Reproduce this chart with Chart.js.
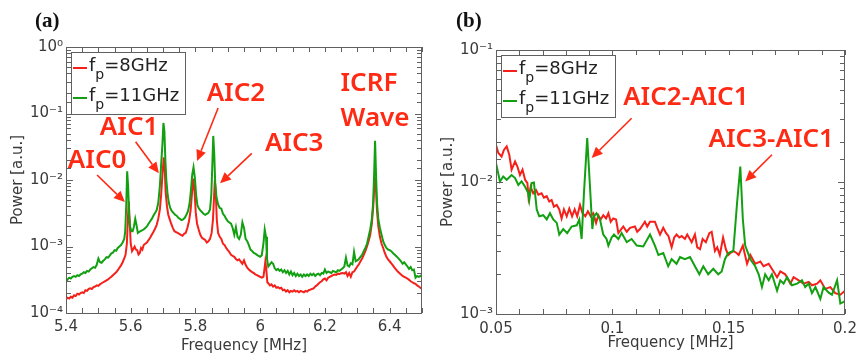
<!DOCTYPE html>
<html><head><meta charset="utf-8">
<script src="https://cdn.jsdelivr.net/npm/chart.js@4/dist/chart.umd.min.js"></script>
<style>
html,body{margin:0;padding:0;background:#fff;}
#wrap{position:relative;width:856px;height:356px;overflow:hidden;}
canvas{position:absolute;top:0;}
#ca{left:0;} #cb{left:428px;}
</style></head><body>
<div id="wrap"><canvas id="ca" width="428" height="356"></canvas><canvas id="cb" width="428" height="356"></canvas></div>
<script>
// ---------- DATA (frequency [MHz], power [a.u.]) ----------
const seriesLabels = ['8GHz', '11GHz'];   // f_p values
const panelLabels = ['(a)', '(b)'];
const axisTitleX = 'Frequency [MHz]';
const axisTitleY = 'Power [a.u.]';
const xTicksLeft = [5.4, 5.6, 5.8, 6, 6.2, 6.4];
const xTicksRight = [0.05, 0.1, 0.15, 0.2];

const leftGreen = [[5.400,2.9e-4],[5.405,3.2e-4],[5.410,3.4e-4],[5.415,3.3e-4],[5.420,3.5e-4],[5.425,3.6e-4],[5.430,3.5e-4],[5.435,3.7e-4],[5.440,3.6e-4],[5.445,3.8e-4],[5.450,3.9e-4],[5.455,4.1e-4],[5.460,4.0e-4],[5.465,4.3e-4],[5.470,4.2e-4],[5.475,4.5e-4],[5.480,4.7e-4],[5.485,4.9e-4],[5.490,4.8e-4],[5.495,5.3e-4],[5.500,6.6e-4],[5.505,5.8e-4],[5.510,5.7e-4],[5.515,6.1e-4],[5.520,6.4e-4],[5.525,6.9e-4],[5.530,6.8e-4],[5.535,7.3e-4],[5.540,7.9e-4],[5.545,8.1e-4],[5.550,8.8e-4],[5.555,8.6e-4],[5.560,9.5e-4],[5.565,1.0e-3],[5.570,1.05e-3],[5.575,1.15e-3],[5.580,1.3e-3],[5.583,1.7e-3],[5.586,4.0e-3],[5.589,1.35e-2],[5.592,8.0e-3],[5.595,3.0e-3],[5.598,2.0e-3],[5.602,1.7e-3],[5.606,1.7e-3],[5.610,2.0e-3],[5.614,2.6e-3],[5.618,2.1e-3],[5.622,1.6e-3],[5.626,1.65e-3],[5.630,1.7e-3],[5.635,1.75e-3],[5.640,1.8e-3],[5.645,1.9e-3],[5.650,2.0e-3],[5.655,2.2e-3],[5.660,2.4e-3],[5.665,2.6e-3],[5.670,2.9e-3],[5.675,3.2e-3],[5.680,3.5e-3],[5.685,4.5e-3],[5.690,8.0e-3],[5.694,1.7e-2],[5.698,3.5e-2],[5.701,7.2e-2],[5.704,5.5e-2],[5.707,2.0e-2],[5.710,1.0e-2],[5.714,6.0e-3],[5.718,4.5e-3],[5.722,3.8e-3],[5.727,3.4e-3],[5.732,3.2e-3],[5.737,3.0e-3],[5.742,2.9e-3],[5.747,2.7e-3],[5.752,2.6e-3],[5.757,2.5e-3],[5.762,2.55e-3],[5.767,2.7e-3],[5.772,3.0e-3],[5.777,3.4e-3],[5.782,4.5e-3],[5.786,7.0e-3],[5.790,1.2e-2],[5.794,1.55e-2],[5.798,1.1e-2],[5.802,6.0e-3],[5.806,4.2e-3],[5.810,3.8e-3],[5.815,3.5e-3],[5.820,3.3e-3],[5.825,3.1e-3],[5.830,3.0e-3],[5.835,3.1e-3],[5.840,3.2e-3],[5.845,3.6e-3],[5.849,6.0e-3],[5.852,1.6e-2],[5.855,4.6e-2],[5.858,2.5e-2],[5.861,9.0e-3],[5.865,5.5e-3],[5.870,4.3e-3],[5.875,3.8e-3],[5.880,3.7e-3],[5.885,3.1e-3],[5.890,2.9e-3],[5.895,2.6e-3],[5.900,2.4e-3],[5.905,2.3e-3],[5.910,2.2e-3],[5.915,1.9e-3],[5.920,1.5e-3],[5.925,1.95e-3],[5.930,1.4e-3],[5.935,1.3e-3],[5.940,1.5e-3],[5.945,2.3e-3],[5.950,1.9e-3],[5.955,1.3e-3],[5.960,1.2e-3],[5.965,1.05e-3],[5.970,9.0e-4],[5.975,8.6e-4],[5.980,8.0e-4],[5.985,7.8e-4],[5.990,7.5e-4],[5.995,7.2e-4],[6.000,7.0e-4],[6.005,7.4e-4],[6.010,1.1e-3],[6.014,1.8e-3],[6.018,1.4e-3],[6.021,6.5e-4],[6.025,5.0e-4],[6.030,5.4e-4],[6.035,5.8e-4],[6.040,5.5e-4],[6.045,4.7e-4],[6.050,4.4e-4],[6.055,4.6e-4],[6.060,4.3e-4],[6.065,4.5e-4],[6.070,4.1e-4],[6.075,4.4e-4],[6.080,4.0e-4],[6.085,4.3e-4],[6.090,3.8e-4],[6.095,4.2e-4],[6.100,3.7e-4],[6.105,4.0e-4],[6.110,3.6e-4],[6.115,3.9e-4],[6.120,3.6e-4],[6.125,3.8e-4],[6.130,3.5e-4],[6.135,3.8e-4],[6.140,3.6e-4],[6.145,3.8e-4],[6.150,3.6e-4],[6.155,3.9e-4],[6.160,3.7e-4],[6.165,3.9e-4],[6.170,3.6e-4],[6.175,3.8e-4],[6.180,3.9e-4],[6.185,3.7e-4],[6.190,4.0e-4],[6.195,3.9e-4],[6.200,4.5e-4],[6.205,4.0e-4],[6.210,4.2e-4],[6.215,4.1e-4],[6.220,4.0e-4],[6.225,4.3e-4],[6.230,4.2e-4],[6.235,4.1e-4],[6.240,4.4e-4],[6.245,4.3e-4],[6.250,4.5e-4],[6.255,4.7e-4],[6.260,5.0e-4],[6.265,6.8e-4],[6.270,5.2e-4],[6.275,5.0e-4],[6.280,5.6e-4],[6.285,5.4e-4],[6.290,8.3e-4],[6.295,6.0e-4],[6.300,6.2e-4],[6.305,6.5e-4],[6.310,7.0e-4],[6.315,7.5e-4],[6.320,8.5e-4],[6.325,9.5e-4],[6.330,1.1e-3],[6.335,1.4e-3],[6.340,1.8e-3],[6.345,2.6e-3],[6.349,4.5e-3],[6.352,1.2e-2],[6.355,3.9e-2],[6.358,1.2e-2],[6.361,4.5e-3],[6.365,2.6e-3],[6.370,1.9e-3],[6.375,1.5e-3],[6.380,1.2e-3],[6.385,1.05e-3],[6.390,9.5e-4],[6.395,9.0e-4],[6.400,8.8e-4],[6.405,8.5e-4],[6.410,8.0e-4],[6.415,7.6e-4],[6.420,7.2e-4],[6.425,6.8e-4],[6.430,6.4e-4],[6.435,6.0e-4],[6.440,5.5e-4],[6.445,5.8e-4],[6.450,5.4e-4],[6.455,5.0e-4],[6.460,4.6e-4],[6.465,4.9e-4],[6.470,4.4e-4],[6.475,4.5e-4],[6.480,3.4e-4],[6.485,3.6e-4],[6.490,3.5e-4],[6.495,3.6e-4],[6.500,3.7e-4]];

const leftRed = [[5.400,1.6e-4],[5.405,1.7e-4],[5.410,1.65e-4],[5.415,1.75e-4],[5.420,1.7e-4],[5.425,1.85e-4],[5.430,1.8e-4],[5.435,1.95e-4],[5.440,1.9e-4],[5.445,2.0e-4],[5.450,2.05e-4],[5.455,2.0e-4],[5.460,2.2e-4],[5.465,2.15e-4],[5.470,2.3e-4],[5.475,2.35e-4],[5.480,2.3e-4],[5.485,2.45e-4],[5.490,2.5e-4],[5.495,2.6e-4],[5.500,2.55e-4],[5.505,2.7e-4],[5.510,2.8e-4],[5.515,2.9e-4],[5.520,3.0e-4],[5.525,3.1e-4],[5.530,3.2e-4],[5.535,3.35e-4],[5.540,3.5e-4],[5.545,3.7e-4],[5.550,3.9e-4],[5.555,4.1e-4],[5.560,4.4e-4],[5.565,4.8e-4],[5.570,5.2e-4],[5.575,5.8e-4],[5.580,6.6e-4],[5.584,7.5e-4],[5.588,1.1e-3],[5.591,2.5e-3],[5.594,4.8e-3],[5.597,2.2e-3],[5.600,1.1e-3],[5.604,8.5e-4],[5.608,9.2e-4],[5.612,1.0e-3],[5.616,9.0e-4],[5.620,8.8e-4],[5.624,7.6e-4],[5.628,8.0e-4],[5.632,9.5e-4],[5.636,9.0e-4],[5.640,1.05e-3],[5.645,1.1e-3],[5.650,1.15e-3],[5.655,1.25e-3],[5.660,1.35e-3],[5.665,1.5e-3],[5.670,1.65e-3],[5.675,1.85e-3],[5.680,2.1e-3],[5.685,2.6e-3],[5.690,3.6e-3],[5.694,6.0e-3],[5.698,1.2e-2],[5.702,2.2e-2],[5.705,1.5e-2],[5.708,6.5e-3],[5.712,4.0e-3],[5.716,3.0e-3],[5.720,2.6e-3],[5.725,2.2e-3],[5.730,1.9e-3],[5.735,1.7e-3],[5.740,1.65e-3],[5.745,1.6e-3],[5.750,1.55e-3],[5.755,1.5e-3],[5.760,1.45e-3],[5.765,1.55e-3],[5.770,1.6e-3],[5.775,1.9e-3],[5.780,2.4e-3],[5.785,3.5e-3],[5.789,6.0e-3],[5.793,1.05e-2],[5.797,7.0e-3],[5.801,3.2e-3],[5.805,2.2e-3],[5.810,1.8e-3],[5.815,1.5e-3],[5.820,1.35e-3],[5.825,1.3e-3],[5.830,1.25e-3],[5.835,1.15e-3],[5.840,1.2e-3],[5.845,1.3e-3],[5.850,1.6e-3],[5.854,2.5e-3],[5.857,5.0e-3],[5.860,1.0e-2],[5.863,6.0e-3],[5.866,2.5e-3],[5.870,1.6e-3],[5.875,1.4e-3],[5.880,1.3e-3],[5.885,1.1e-3],[5.890,1.05e-3],[5.895,9.5e-4],[5.900,8.8e-4],[5.905,8.2e-4],[5.910,7.5e-4],[5.915,7.2e-4],[5.920,7.0e-4],[5.925,6.5e-4],[5.930,6.2e-4],[5.935,6.4e-4],[5.940,5.9e-4],[5.945,5.5e-4],[5.950,6.2e-4],[5.955,5.3e-4],[5.960,4.8e-4],[5.965,4.5e-4],[5.970,4.3e-4],[5.975,4.1e-4],[5.980,4.0e-4],[5.985,3.8e-4],[5.990,3.7e-4],[5.995,3.6e-4],[6.000,3.5e-4],[6.005,3.4e-4],[6.010,3.5e-4],[6.013,4.5e-4],[6.016,6.0e-4],[6.019,4.5e-4],[6.022,2.9e-4],[6.025,2.8e-4],[6.030,2.6e-4],[6.035,2.7e-4],[6.040,2.5e-4],[6.045,2.6e-4],[6.050,2.4e-4],[6.055,2.45e-4],[6.060,2.35e-4],[6.065,2.4e-4],[6.070,2.2e-4],[6.075,2.25e-4],[6.080,2.1e-4],[6.085,2.2e-4],[6.090,2.05e-4],[6.095,2.15e-4],[6.100,2.1e-4],[6.105,2.2e-4],[6.110,2.1e-4],[6.115,2.15e-4],[6.120,2.05e-4],[6.125,2.15e-4],[6.130,2.1e-4],[6.135,2.05e-4],[6.140,2.15e-4],[6.145,2.1e-4],[6.150,2.2e-4],[6.155,2.25e-4],[6.160,2.3e-4],[6.165,2.35e-4],[6.170,2.5e-4],[6.175,2.6e-4],[6.180,2.75e-4],[6.185,2.9e-4],[6.190,3.0e-4],[6.195,3.2e-4],[6.200,3.3e-4],[6.205,3.1e-4],[6.210,3.4e-4],[6.215,3.5e-4],[6.220,3.6e-4],[6.225,3.7e-4],[6.230,3.8e-4],[6.235,3.75e-4],[6.240,3.9e-4],[6.245,3.85e-4],[6.250,3.95e-4],[6.255,4.0e-4],[6.260,3.9e-4],[6.265,4.1e-4],[6.270,3.6e-4],[6.275,4.0e-4],[6.280,3.5e-4],[6.285,4.1e-4],[6.290,4.2e-4],[6.295,4.6e-4],[6.300,5.0e-4],[6.305,5.4e-4],[6.310,6.0e-4],[6.315,6.6e-4],[6.320,7.5e-4],[6.325,8.5e-4],[6.330,1.0e-3],[6.335,1.2e-3],[6.340,1.5e-3],[6.345,2.2e-3],[6.349,3.8e-3],[6.352,7.0e-3],[6.355,1.1e-2],[6.358,7.0e-3],[6.361,3.4e-3],[6.365,2.0e-3],[6.370,1.4e-3],[6.375,1.1e-3],[6.380,9.5e-4],[6.385,8.0e-4],[6.390,7.0e-4],[6.395,6.4e-4],[6.400,6.0e-4],[6.405,5.6e-4],[6.410,5.2e-4],[6.415,4.8e-4],[6.420,4.5e-4],[6.425,4.2e-4],[6.430,4.0e-4],[6.435,3.8e-4],[6.440,3.6e-4],[6.445,3.5e-4],[6.450,3.4e-4],[6.455,3.3e-4],[6.460,3.15e-4],[6.465,3.0e-4],[6.470,2.9e-4],[6.475,2.8e-4],[6.480,2.75e-4],[6.485,2.6e-4],[6.490,2.5e-4],[6.495,2.4e-4],[6.500,2.3e-4]];

const rightGreen = [[0.0500,0.0139],[0.0517,0.0101],[0.0531,0.0110],[0.0546,0.0104],[0.0567,0.0113],[0.0582,0.0107],[0.0596,0.0095],[0.0610,0.0101],[0.0625,0.0092],[0.0632,0.0087],[0.0639,0.0082],[0.0643,0.0073],[0.0653,0.0098],[0.0663,0.0099],[0.0675,0.0062],[0.0686,0.0055],[0.0703,0.0056],[0.0718,0.0052],[0.0732,0.0058],[0.0746,0.0052],[0.0761,0.0049],[0.0772,0.0040],[0.0789,0.0044],[0.0806,0.0041],[0.0825,0.0046],[0.0847,0.0047],[0.0858,0.0052],[0.0868,0.0037],[0.0878,0.0082],[0.0892,0.0215],[0.0904,0.0092],[0.0914,0.0044],[0.0921,0.0055],[0.0932,0.0058],[0.0947,0.0052],[0.0961,0.0040],[0.0975,0.0037],[0.0983,0.0033],[0.0997,0.0038],[0.1007,0.0040],[0.1026,0.0037],[0.1040,0.0041],[0.1062,0.0035],[0.1083,0.0037],[0.1105,0.0033],[0.1133,0.00325],[0.1162,0.0040],[0.1183,0.0033],[0.1198,0.0028],[0.1219,0.0029],[0.1240,0.0023],[0.1255,0.0026],[0.1276,0.0024],[0.1291,0.0027],[0.1312,0.0026],[0.1334,0.0027],[0.1355,0.0023],[0.1374,0.0020],[0.1391,0.0023],[0.1412,0.0020],[0.1434,0.0022],[0.1455,0.0020],[0.1470,0.0021],[0.1484,0.0026],[0.1498,0.0029],[0.1520,0.0030],[0.1536,0.0069],[0.1550,0.0131],[0.1561,0.0052],[0.1571,0.0033],[0.1593,0.0026],[0.1614,0.0023],[0.1629,0.0020],[0.1643,0.0016],[0.1657,0.0020],[0.1672,0.0018],[0.1686,0.0020],[0.1708,0.0015],[0.1722,0.0018],[0.1736,0.0017],[0.1751,0.0019],[0.1772,0.00165],[0.1794,0.0017],[0.1815,0.0018],[0.1829,0.0016],[0.1844,0.0017],[0.1858,0.00144],[0.1873,0.0016],[0.1894,0.0013],[0.1908,0.0016],[0.1930,0.00145],[0.1944,0.0014],[0.1966,0.0018],[0.1980,0.0012],[0.2000,0.00125]];

const rightRed = [[0.0500,0.0191],[0.0510,0.0166],[0.0524,0.0156],[0.0534,0.0175],[0.0546,0.0186],[0.0557,0.0161],[0.0567,0.0124],[0.0582,0.0143],[0.0592,0.0131],[0.0603,0.0113],[0.0614,0.0124],[0.0625,0.0104],[0.0635,0.0098],[0.0640,0.0076],[0.0649,0.0092],[0.0660,0.0082],[0.0672,0.0087],[0.0682,0.0080],[0.0696,0.0082],[0.0706,0.0076],[0.0718,0.0078],[0.0729,0.0071],[0.0739,0.0073],[0.0749,0.0065],[0.0761,0.0067],[0.0772,0.0062],[0.0782,0.0053],[0.0792,0.0062],[0.0804,0.0055],[0.0815,0.0063],[0.0827,0.0055],[0.0838,0.0062],[0.0849,0.0055],[0.0861,0.0067],[0.0872,0.0058],[0.0884,0.0055],[0.0895,0.0060],[0.0907,0.0055],[0.0918,0.0058],[0.0930,0.0049],[0.0940,0.0056],[0.0950,0.0052],[0.0961,0.0056],[0.0973,0.0053],[0.0983,0.0058],[0.0993,0.0050],[0.1004,0.0053],[0.1016,0.0052],[0.1026,0.0041],[0.1047,0.0046],[0.1062,0.0042],[0.1076,0.0045],[0.1097,0.0046],[0.1107,0.0042],[0.1119,0.0044],[0.1140,0.0050],[0.1150,0.0046],[0.1162,0.0050],[0.1183,0.0050],[0.1193,0.0045],[0.1205,0.0040],[0.1219,0.0045],[0.1231,0.0041],[0.1241,0.0039],[0.1255,0.0032],[0.1266,0.0038],[0.1276,0.0040],[0.1288,0.0038],[0.1298,0.0039],[0.1312,0.0037],[0.1322,0.0040],[0.1341,0.0035],[0.1355,0.0040],[0.1365,0.0032],[0.1377,0.0031],[0.1388,0.0037],[0.1402,0.0035],[0.1417,0.0041],[0.1427,0.0042],[0.1441,0.0030],[0.1451,0.0032],[0.1462,0.0028],[0.1476,0.0038],[0.1488,0.0031],[0.1498,0.0028],[0.1508,0.0029],[0.1520,0.0030],[0.1534,0.0029],[0.1543,0.0028],[0.1561,0.0033],[0.1579,0.0024],[0.1593,0.0028],[0.1614,0.0024],[0.1636,0.0025],[0.1650,0.0023],[0.1672,0.0024],[0.1693,0.0021],[0.1708,0.0019],[0.1722,0.0021],[0.1743,0.0020],[0.1765,0.0017],[0.1779,0.0019],[0.1801,0.0018],[0.1822,0.0017],[0.1844,0.00175],[0.1858,0.00165],[0.1880,0.0017],[0.1894,0.0018],[0.1915,0.00155],[0.1937,0.0016],[0.1958,0.00144],[0.1980,0.0014],[0.2000,0.0015]];

// annotations: text and arrows anchored in data coordinates
const annotLeft = [
  {text:'AIC0', x:5.496, y:0.0193, ax:[5.496,0.0119], at:[5.582,0.00467]},
  {text:'AIC1', x:5.595, y:0.0605, ax:[5.615,0.0377], at:[5.687,0.0126]},
  {text:'AIC2', x:5.925, y:0.196,  ax:[5.870,0.121],  at:[5.805,0.0193]},
  {text:'AIC3', x:6.105, y:0.0348, ax:[5.974,0.0252], at:[5.876,0.0089]},
  {text:'ICRF', x:6.336, y:0.278},
  {text:'Wave', x:6.355, y:0.0826}
];
const annotRight = [
  {text:'AIC2-AIC1', x:0.1316, y:0.0438, ax:[0.1083,0.0304], at:[0.0911,0.0152]},
  {text:'AIC3-AIC1', x:0.1683, y:0.0209, ax:[0.1686,0.0161], at:[0.1571,0.0101]}
];

// ---------- STYLE ----------
const RED = '#f5201a', GREEN = '#12a012', ANN = '#ff2a14', AXC = '#606060', TXT = '#3a3a3a';
const SUP = {'0':'\u2070','1':'\u00b9','2':'\u00b2','3':'\u00b3','4':'\u2074','-':'\u207b'};
function supLabel(v){
  const e = Math.log10(v);
  if (Math.abs(e - Math.round(e)) > 1e-6) return '';
  return '10' + String(Math.round(e)).split('').map(c=>SUP[c]).join('');
}
function toXY(arr){ return arr.map(p=>({x:p[0], y:p[1]})); }

const drawPlugin = {
  id:'decor',
  afterDatasetsDraw(chart, args, opts){
    const {ctx, chartArea:a, scales:{x,y}} = chart;
    ctx.save();
    ctx.strokeStyle = AXC; ctx.lineWidth = 1;
    ctx.beginPath();
    x.ticks.forEach(t=>{
      const px = Math.round(x.getPixelForValue(t.value)) + 0.5;
      ctx.moveTo(px, a.bottom); ctx.lineTo(px, a.bottom - 5);
      ctx.moveTo(px, a.top); ctx.lineTo(px, a.top + 5);
    });
    y.ticks.forEach(t=>{
      const py = Math.round(y.getPixelForValue(t.value)) + 0.5;
      const e = Math.log10(t.value);
      const L = Math.abs(e - Math.round(e)) < 1e-6 ? 7 : 5;
      ctx.moveTo(a.left, py); ctx.lineTo(a.left + L, py);
      ctx.moveTo(a.right, py); ctx.lineTo(a.right - L, py);
    });
    ctx.stroke();
    ctx.strokeRect(Math.round(a.left)+0.5, Math.round(a.top)+0.5, Math.round(a.right)-Math.round(a.left)-1, Math.round(a.bottom)-Math.round(a.top));

    // legend
    const lx = a.left + 5, ly = a.top + 5, lw = 114, lh = 62;
    ctx.fillStyle = '#fff';
    ctx.fillRect(lx, ly, lw, lh);
    ctx.strokeStyle = AXC;
    ctx.strokeRect(Math.round(lx)+0.5, Math.round(ly)+0.5, lw, lh);
    const rows = [[RED, seriesLabels[0]], [GREEN, seriesLabels[1]]];
    rows.forEach((r, i)=>{
      const base = ly + 19 + i*30;
      ctx.strokeStyle = r[0]; ctx.lineWidth = 2;
      ctx.beginPath(); ctx.moveTo(lx + 2, base - 3); ctx.lineTo(lx + 16, base - 3); ctx.stroke();
      ctx.fillStyle = '#222'; ctx.textBaseline = 'alphabetic'; ctx.textAlign = 'left';
      ctx.font = '18px "DejaVu Sans"';
      ctx.fillText('f', lx + 18, base);
      const fw = ctx.measureText('f').width;
      ctx.font = '14px "DejaVu Sans"';
      ctx.fillText('p', lx + 18 + fw, base + 8);
      const pw = ctx.measureText('p').width;
      ctx.font = '18px "DejaVu Sans"';
      ctx.fillText('=' + r[1], lx + 18 + fw + pw, base);
    });

    // annotations
    ctx.fillStyle = ANN; ctx.strokeStyle = ANN;
    ctx.font = '600 26px "Noto Sans"';
    ctx.textAlign = 'center'; ctx.textBaseline = 'middle';
    opts.annot.forEach(n=>{
      ctx.fillText(n.text, x.getPixelForValue(n.x), y.getPixelForValue(n.y));
      if (n.ax){
        const x0 = x.getPixelForValue(n.ax[0]), y0 = y.getPixelForValue(n.ax[1]);
        const x1 = x.getPixelForValue(n.at[0]), y1 = y.getPixelForValue(n.at[1]);
        const ang = Math.atan2(y1 - y0, x1 - x0);
        const hl = 11, hw = 5;
        const bx = x1 - hl*Math.cos(ang), by = y1 - hl*Math.sin(ang);
        ctx.lineWidth = 1.6;
        ctx.beginPath(); ctx.moveTo(x0, y0); ctx.lineTo(bx, by); ctx.stroke();
        ctx.beginPath();
        ctx.moveTo(x1, y1);
        ctx.lineTo(bx + hw*Math.sin(ang), by - hw*Math.cos(ang));
        ctx.lineTo(bx - hw*Math.sin(ang), by + hw*Math.cos(ang));
        ctx.closePath(); ctx.fill();
      }
    });
    ctx.restore();
  },
  afterDraw(chart, args, opts){
    const ctx = chart.ctx;
    ctx.save();
    ctx.fillStyle = '#111';
    ctx.font = 'bold 21px "Liberation Serif"';
    ctx.textAlign = 'left'; ctx.textBaseline = 'middle';
    ctx.fillText(opts.panel, opts.panelX, 22);
    ctx.restore();
  }
};

function makeChart(id, cfg){
  return new Chart(document.getElementById(id), {
    type:'line',
    data:{datasets:[
      {label:'f_p=' + seriesLabels[1], data:toXY(cfg.green), borderColor:GREEN, borderWidth:2, pointRadius:0, tension:0, order:0},
      {label:'f_p=' + seriesLabels[0], data:toXY(cfg.red), borderColor:RED, borderWidth:2, pointRadius:0, tension:0, order:1}
    ]},
    options:{
      responsive:false, animation:false, devicePixelRatio:1,
      layout:{padding:{top:cfg.top, right:cfg.right, left:0, bottom:0}},
      plugins:{legend:{display:false}, tooltip:{enabled:false},
        decor:{annot:cfg.annot, panel:cfg.panel, panelX:cfg.panelX}},
      scales:{
        x:{type:'linear', min:cfg.xmin, max:cfg.xmax,
          grid:{display:false, drawTicks:false}, border:{display:false},
          ticks:{stepSize:cfg.step, autoSkip:false, maxRotation:0, padding:cfg.xpad, color:TXT,
            font:{family:'"DejaVu Sans"', size:15},
            callback:(v)=>{ const m = cfg.xlabels.find(t=>Math.abs(t - v) < 1e-6); return m === undefined ? '' : String(m); }},
          title:{display:true, text:axisTitleX, color:TXT, font:{family:'"DejaVu Sans"', size:15}, padding:{top:0, bottom:cfg.titleBottom}},
          afterFit:(s)=>{ s.height = cfg.xh; s.paddingLeft = 0; s.paddingRight = 0; }
        },
        y:{type:'logarithmic', min:cfg.ymin, max:cfg.ymax,
          grid:{display:false, drawTicks:false}, border:{display:false},
          ticks:{autoSkip:false, padding:3, color:TXT, font:{family:'"DejaVu Sans"', size:15},
            callback:(v)=>supLabel(v)},
          title:{display:true, text:axisTitleY, color:TXT, font:{family:'"DejaVu Sans"', size:15}, padding:{top:cfg.titleLeft, bottom:0}},
          afterFit:(s)=>{ s.width = cfg.yw; s.paddingTop = 0; s.paddingBottom = 0; }
        }
      }
    },
    plugins:[drawPlugin]
  });
}

makeChart('ca', {green:leftGreen, red:leftRed, annot:annotLeft, panel:panelLabels[0], panelX:35,
  top:47, right:6, xh:43, yw:66, xmin:5.4, xmax:6.5, step:0.05, xlabels:xTicksLeft,
  ymin:1e-4, ymax:1, xpad:5, titleBottom:1, titleLeft:9});
makeChart('cb', {green:rightGreen, red:rightRed, annot:annotRight, panel:panelLabels[1], panelX:28,
  top:50, right:11, xh:42, yw:68, xmin:0.05, xmax:0.2, step:0.01, xlabels:xTicksRight,
  ymin:1e-3, ymax:0.1, xpad:6, titleBottom:4, titleLeft:11});
</script>
</body></html>
